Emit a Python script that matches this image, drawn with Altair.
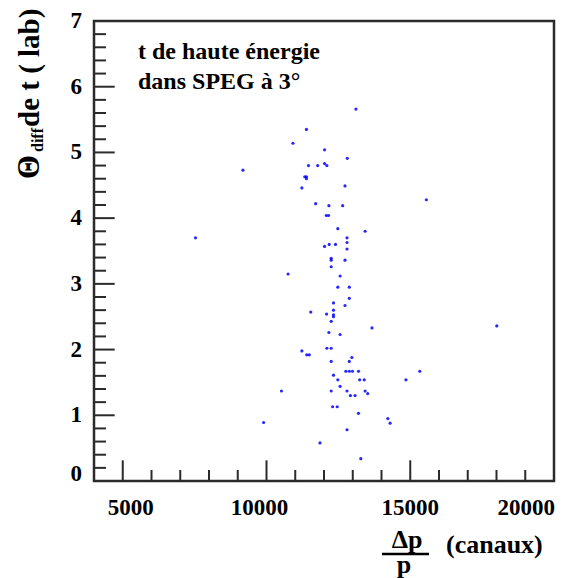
import altair as alt
import pandas as pd

# ---- data (Δp/p in channels, Θdiff in degrees) ----
dp_canaux = [13110, 11390, 10920, 12020, 12810, 11460, 11780, 12020, 12100,
             11330, 11390, 11390, 12730, 11230, 11710, 12170, 12650, 12080,
             12160, 12480, 13430, 12800, 12800, 12180, 12400, 12020, 12800,
             12250, 12250, 12730, 12250, 10750, 12560, 12480, 12880, 12880,
             12330, 12730, 11540, 12090, 12330, 12330, 12330, 12250, 13670,
             12170, 12560, 11230, 11400, 11490, 12100, 12250, 12970, 12250,
             12880, 12760, 12880, 12990, 13200, 12330, 12480, 13240, 13400,
             12560, 12250, 12800, 12920, 13080, 13430, 13520, 12300, 12460,
             13200, 12800, 11860, 13280, 9180, 10520, 9900, 7530, 15560,
             18010, 15330, 14850, 14220, 14300]
theta_diff = [5.66, 5.35, 5.14, 5.04, 4.91, 4.80, 4.80, 4.83, 4.80,
              4.63, 4.63, 4.60, 4.49, 4.46, 4.22, 4.19, 4.19, 4.04,
              4.04, 3.84, 3.80, 3.70, 3.63, 3.60, 3.60, 3.57, 3.53,
              3.39, 3.36, 3.36, 3.26, 3.15, 3.12, 2.95, 2.95, 2.78,
              2.71, 2.67, 2.57, 2.54, 2.60, 2.53, 2.50, 2.43, 2.33,
              2.26, 2.23, 1.98, 1.92, 1.92, 2.02, 2.02, 1.88, 1.82,
              1.82, 1.67, 1.67, 1.67, 1.67, 1.61, 1.54, 1.54, 1.54,
              1.44, 1.37, 1.37, 1.30, 1.30, 1.37, 1.33, 1.13, 1.13,
              1.03, 0.78, 0.58, 0.34, 4.73, 1.37, 0.89, 3.70, 4.28,
              2.36, 1.67, 1.54, 0.95, 0.88]

x_labels = [5000, 10000, 15000, 20000]
y_labels = [0, 1, 2, 3, 4, 5, 6, 7]
x_major = [5000, 10000, 15000]
x_minor = [6000, 7000, 8000, 9000, 11000, 12000, 13000, 14000,
           16000, 17000, 18000, 19000]
y_major = [1, 2, 3, 4, 5, 6]
y_minor = [0.2, 0.4, 0.6, 0.8, 1.2, 1.4, 1.6, 1.8, 2.2, 2.4, 2.6, 2.8,
           3.2, 3.4, 3.6, 3.8, 4.2, 4.4, 4.6, 4.8, 5.2, 5.4, 5.6, 5.8,
           6.2, 6.4, 6.6, 6.8]

annotation = ["t de haute énergie", "dans SPEG à 3°"]

FONT = "Liberation Serif"
DARK = "#2b2b2b"
W, H = 460, 460

df = pd.DataFrame({"dp": dp_canaux, "theta": theta_diff})

x_scale = alt.Scale(domain=[4000, 20000], nice=False, zero=False)
y_scale = alt.Scale(domain=[0, 7], nice=False, zero=False)

points = alt.Chart(df).mark_point(
    filled=True, shape="circle", size=10, color="#0000ff", opacity=0.85
).encode(
    x=alt.X("dp:Q", scale=x_scale, axis=None),
    y=alt.Y("theta:Q", scale=y_scale, axis=None),
)


def xticks(vals, length):
    return alt.Chart(pd.DataFrame({"v": vals})).mark_rule(
        color=DARK, strokeWidth=2
    ).encode(
        x=alt.X("v:Q", scale=x_scale, axis=None),
        y=alt.value(H), y2=alt.value(H - length),
    )


def yticks(vals, length):
    return alt.Chart(pd.DataFrame({"v": vals})).mark_rule(
        color=DARK, strokeWidth=2
    ).encode(
        y=alt.Y("v:Q", scale=y_scale, axis=None),
        x=alt.value(0), x2=alt.value(length),
    )


def xlabel(vals, dx, align="center"):
    return alt.Chart(pd.DataFrame({"v": vals})).mark_text(
        font=FONT, fontSize=23, fontWeight="bold", color="black",
        align=align, baseline="alphabetic", dx=dx
    ).encode(
        x=alt.X("v:Q", scale=x_scale, axis=None),
        y=alt.value(H + 34),
        text=alt.Text("v:Q", format="d"),
    )


def ylabel(vals, dy):
    return alt.Chart(pd.DataFrame({"v": vals})).mark_text(
        font=FONT, fontSize=23, fontWeight="bold", color="black",
        align="right", baseline="middle", dy=dy
    ).encode(
        y=alt.Y("v:Q", scale=y_scale, axis=None),
        x=alt.value(-12),
        text=alt.Text("v:Q", format="d"),
    )


one = pd.DataFrame({"a": [0]})


def label(text, x, y, size, angle=0, align="left", baseline="alphabetic"):
    kw = dict(font=FONT, fontSize=size, fontWeight="bold", color="black",
              align=align, baseline=baseline)
    if angle:
        kw["angle"] = angle
    return alt.Chart(one).mark_text(**kw).encode(
        x=alt.value(x), y=alt.value(y), text=alt.value(text)
    )


ann1 = label(annotation[0], 44, 38, 24)
ann2 = label(annotation[1], 44, 68, 24)

# y title: Θ_diff de t ( lab)
ytitle_theta = label("Θ", -55, 146, 31, angle=270, align="center")
ytitle_sub = label("diff", -51, 119, 16, angle=270, align="center")
ytitle_main = label("de t ( lab)", -55, 106, 29, angle=270, align="left")

# x title: Δp / p (canaux)
xt_num = label("Δp", 313, 527, 26, align="center")
xt_den = label("p", 310, 552, 26, align="center")
xt_bar = alt.Chart(one).mark_rule(color="black", strokeWidth=2.5).encode(
    x=alt.value(288), x2=alt.value(335), y=alt.value(533)
)
xt_unit = label("(canaux)", 352, 532, 26)

chart = alt.layer(
    xticks(x_major, 20.7), xticks(x_minor, 11),
    yticks(y_major, 20.7), yticks(y_minor, 12),
    points,
    xlabel(x_labels[0:1], 8), xlabel(x_labels[1:2], -7),
    xlabel(x_labels[2:3], 0), xlabel(x_labels[3:4], 1, align="right"),
    ylabel(y_labels[0:1], -7), ylabel(y_labels[1:], 0),
    ann1, ann2,
    ytitle_theta, ytitle_sub, ytitle_main,
    xt_num, xt_den, xt_bar, xt_unit,
).properties(
    width=W, height=H,
    autosize=alt.AutoSizeParams(type="none"),
    padding={"left": 86, "top": 13, "right": 4, "bottom": 97},
    background="white",
).configure_view(
    stroke=DARK, strokeWidth=2.5
)

chart.save("out.html", embed_options={"renderer": "svg", "actions": False})
